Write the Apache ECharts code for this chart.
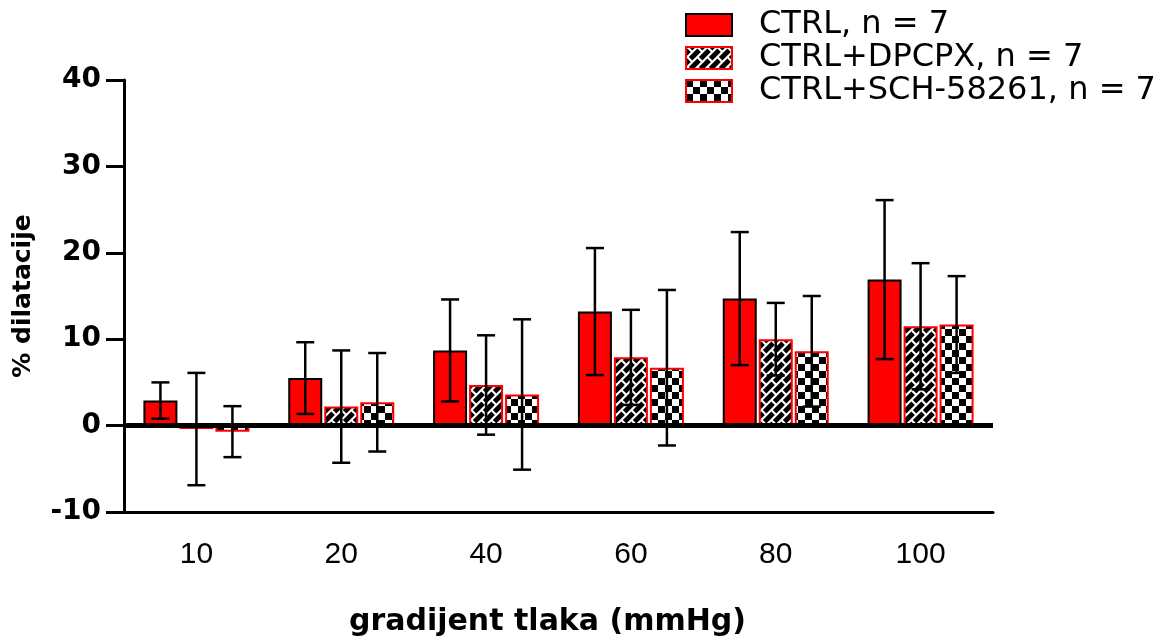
<!DOCTYPE html>
<html>
<head>
<meta charset="utf-8">
<script src="https://cdn.jsdelivr.net/npm/echarts@6/dist/echarts.min.js"></script>
<style>
  html, body { margin: 0; padding: 0; background: #fff; }
  #chart { width: 1174px; height: 639px; }
</style>
</head>
<body>
<div id="chart"></div>
<script>
// Pressure gradient groups (mmHg)
const categories = ['10', '20', '40', '60', '80', '100'];

// Mean dilatation (%) and error half-widths per group
const ctrlMean = [2.9, 5.5, 8.7, 13.2, 14.7, 16.9];
const ctrlErr = [2.1, 4.15, 5.9, 7.35, 7.7, 9.2];
const dpcpxMean = [-0.4, 2.2, 4.7, 7.9, 10.0, 11.5];
const dpcpxErr = [6.5, 6.5, 5.75, 5.5, 4.2, 7.3];
const schMean = [-0.7, 2.7, 3.6, 6.7, 8.6, 11.7];
const schErr = [2.95, 5.7, 8.7, 9.0, 6.4, 5.6];

// Value axis ticks
const yTicks = [-10, 0, 10, 20, 30, 40];

const seriesNames = ['CTRL, n = 7', 'CTRL+DPCPX, n = 7', 'CTRL+SCH-58261, n = 7'];

// Brick hatch rotated 45°: black bricks separated by white mortar lines
function brickPattern() {
  const P = 20, w = 2.0, S = 3;
  const h = P / (2 * Math.SQRT2), L = P / Math.SQRT2;
  const c = document.createElement('canvas');
  c.width = P; c.height = P;
  const ctx = c.getContext('2d');
  const img = ctx.createImageData(P, P);
  const mod = (a, b) => ((a % b) + b) % b;
  for (let y = 0; y < P; y++) {
    for (let x = 0; x < P; x++) {
      let white = 0;
      for (let sy = 0; sy < S; sy++) {
        for (let sx = 0; sx < S; sx++) {
          const px = x + (sx + 0.5) / S, py = y + (sy + 0.5) / S;
          const u = (px - py) / Math.SQRT2;
          const v = (px + py) / Math.SQRT2;
          const r = Math.floor(v / h);
          const rv = v - r * h;
          const ju = mod(u + (mod(r, 2) ? L / 2 : 0), L);
          if (rv < w || ju < w) white++;
        }
      }
      const g = Math.round(255 * white / (S * S));
      const i = (y * P + x) * 4;
      img.data[i] = g; img.data[i + 1] = g; img.data[i + 2] = g; img.data[i + 3] = 255;
    }
  }
  ctx.putImageData(img, 0, 0);
  return c;
}

// Black and white checkerboard
function checkerPattern() {
  const s = 7;
  const c = document.createElement('canvas');
  c.width = 2 * s; c.height = 2 * s;
  const ctx = c.getContext('2d');
  ctx.fillStyle = '#fff';
  ctx.fillRect(0, 0, 2 * s, 2 * s);
  ctx.fillStyle = '#000';
  ctx.fillRect(0, 0, s, s);
  ctx.fillRect(s, s, s, s);
  return c;
}

const barWidth = 34;
const gapPx = 2;

function errorSeries(means, errs, k) {
  const offset = (k - 1) * (barWidth + gapPx);
  return {
    type: 'custom',
    name: seriesNames[k] + ' err',
    z: 5,
    silent: true,
    data: means.map((m, i) => [i, m - errs[i], m + errs[i]]),
    renderItem: function (params, api) {
      const idx = api.value(0);
      const lo = api.coord([idx, api.value(1)]);
      const hi = api.coord([idx, api.value(2)]);
      const x = lo[0] + offset;
      const half = 9;
      const style = { stroke: '#000', lineWidth: 2.5 };
      return {
        type: 'group',
        children: [
          { type: 'line', shape: { x1: x, y1: lo[1], x2: x, y2: hi[1] }, style: style },
          { type: 'line', shape: { x1: x - half, y1: hi[1], x2: x + half, y2: hi[1] }, style: style },
          { type: 'line', shape: { x1: x - half, y1: lo[1], x2: x + half, y2: lo[1] }, style: style }
        ]
      };
    }
  };
}

const chart = echarts.init(document.getElementById('chart'), null, { renderer: 'canvas' });

const option = {
  animation: false,
  backgroundColor: '#fff',
  grid: {
    left: 124, top: 80, width: 869, height: 432,
    containLabel: false,
    outerBoundsMode: 'none'
  },
  legend: {
    orient: 'vertical',
    left: 685,
    top: 9,
    padding: 0,
    itemWidth: 46,
    itemHeight: 22,
    itemGap: 1,
    icon: 'rect',
    data: seriesNames,
    formatter: name => '{t|' + name + '}',
    textStyle: {
      rich: {
        t: {
          fontFamily: 'DejaVu Sans',
          fontSize: 32,
          color: '#000',
          lineHeight: 30,
          padding: [0, 0, 0, 22]
        }
      }
    }
  },
  xAxis: {
    type: 'category',
    data: categories,
    name: 'gradijent tlaka (mmHg)',
    nameLocation: 'middle',
    nameGap: 95,
    nameTextStyle: {
      fontFamily: 'DejaVu Sans',
      fontWeight: 'bold',
      fontSize: 30,
      color: '#000',
      padding: [0, 22, 0, 0]
    },
    axisLine: { onZero: false, lineStyle: { color: '#000', width: 3 } },
    axisTick: { alignWithLabel: true, length: 14, lineStyle: { color: '#000', width: 3 } },
    axisLabel: {
      fontFamily: 'Liberation Sans',
      fontSize: 30,
      color: '#000',
      margin: 28
    },
    splitLine: { show: false }
  },
  yAxis: {
    type: 'value',
    min: yTicks[0],
    max: yTicks[yTicks.length - 1],
    interval: yTicks[1] - yTicks[0],
    name: '% dilatacije',
    nameLocation: 'middle',
    nameGap: 88,
    nameRotate: 90,
    nameTextStyle: {
      fontFamily: 'DejaVu Sans',
      fontWeight: 'bold',
      fontSize: 25,
      color: '#000'
    },
    axisLine: { show: true, lineStyle: { color: '#000', width: 3 } },
    axisTick: { show: true, length: 18, lineStyle: { color: '#000', width: 3 } },
    axisLabel: {
      fontFamily: 'DejaVu Sans',
      fontWeight: 'bold',
      fontSize: 28,
      color: '#000',
      margin: 23
    },
    splitLine: { show: false }
  },
  series: [
    {
      type: 'bar',
      name: seriesNames[0],
      data: ctrlMean,
      barWidth: barWidth,
      barGap: (gapPx / barWidth * 100).toFixed(1) + '%',
      itemStyle: { color: '#ff0000', borderColor: '#000', borderWidth: 2 },
      markLine: {
        silent: true,
        symbol: 'none',
        z: 4,
        label: { show: false },
        lineStyle: { color: '#000', width: 5, type: 'solid' },
        data: [{ yAxis: 0 }]
      }
    },
    {
      type: 'bar',
      name: seriesNames[1],
      data: dpcpxMean,
      barWidth: barWidth,
      itemStyle: {
        color: { image: brickPattern(), repeat: 'repeat' },
        borderColor: '#ff0000',
        borderWidth: 2
      }
    },
    {
      type: 'bar',
      name: seriesNames[2],
      data: schMean,
      barWidth: barWidth,
      itemStyle: {
        color: { image: checkerPattern(), repeat: 'repeat' },
        borderColor: '#ff0000',
        borderWidth: 2
      }
    },
    errorSeries(ctrlMean, ctrlErr, 0),
    errorSeries(dpcpxMean, dpcpxErr, 1),
    errorSeries(schMean, schErr, 2)
  ]
};

chart.setOption(option);
</script>
</body>
</html>
